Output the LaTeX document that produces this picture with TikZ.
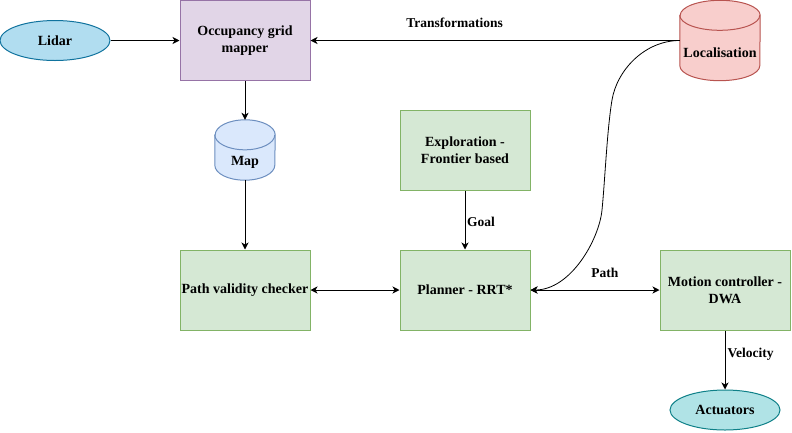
\documentclass[tikz,border=0pt]{standalone}
\usepackage{fontspec}
\setmainfont{Liberation Serif}
\usetikzlibrary{arrows.meta,calc,backgrounds,shapes.geometric}
\definecolor{lidarfill}{HTML}{B1DDF0}
\definecolor{lidardraw}{HTML}{10739E}
\definecolor{actfill}{HTML}{B0E3E6}
\definecolor{actdraw}{HTML}{0E8088}
\definecolor{occfill}{HTML}{E1D5E7}
\definecolor{occdraw}{HTML}{9673A6}
\definecolor{locfill}{HTML}{F8CECC}
\definecolor{locdraw}{HTML}{B85450}
\definecolor{mapfill}{HTML}{DAE8FC}
\definecolor{mapdraw}{HTML}{6C8EBF}
\definecolor{gfill}{HTML}{D5E8D4}
\definecolor{gdraw}{HTML}{82B366}
\newcommand\mycylinder[4]{% name, fill, draw, x radius
  \begin{scope}[on background layer]
    \path[fill=#2,draw=#3,line width=1pt]
      ($(#1.north west)+(0,-15)$) -- ($(#1.south west)+(0,15)$)
      arc[start angle=180,end angle=360,x radius=#4,y radius=15]
      -- ($(#1.north east)+(0,-15)$)
      arc[start angle=0,end angle=180,x radius=#4,y radius=15] -- cycle;
    \draw[draw=#3,line width=1pt] ($(#1.north west)+(0,-15)$)
      arc[start angle=180,end angle=360,x radius=#4,y radius=15];
  \end{scope}}
\begin{document}
\begin{tikzpicture}[x=1pt,y=1pt,
  txt/.style={font=\fontsize{14}{16.8}\selectfont\bfseries},
  lbl/.style={font=\fontsize{13.5}{16}\selectfont\bfseries,inner sep=0pt},
  box/.style={rectangle,draw,txt,align=center,minimum width=130pt,minimum height=80pt,inner sep=0pt,line width=1pt},
  gbox/.style={box,fill=gfill,draw=gdraw},
  ell/.style={ellipse,draw,txt,minimum width=110pt,minimum height=40pt,inner sep=0pt,line width=1pt},
  cylnode/.style={rectangle,draw=none,inner sep=0pt},
  arr/.style={-{Stealth[length=7pt,width=7pt,inset=2pt]},line width=1pt},
  darr/.style={{Stealth[length=7pt,width=7pt,inset=2pt]}-{Stealth[length=7pt,width=7pt,inset=2pt]},line width=1pt}
]
\useasboundingbox (0,0) rectangle (792,-432);

\node[ell,fill=lidarfill,draw=lidardraw] (lidar) at (55,-40.5) {Lidar};
\node[box,fill=occfill,draw=occdraw] (occ) at (245,-40.5) {Occupancy grid\\mapper};
\node[cylnode,minimum width=80pt,minimum height=80pt,
  label={[txt,yshift=-12pt]center:Localisation}] (loc) at (720,-40.5) {};
\mycylinder{loc}{locfill}{locdraw}{40}
\node[cylnode,minimum width=60pt,minimum height=60pt,
  label={[txt,yshift=-12pt]center:Map}] (map) at (245,-150) {};
\mycylinder{map}{mapfill}{mapdraw}{30}
\node[gbox] (expl) at (465,-150) {Exploration -\\Frontier based};
\node[gbox] (pvc) at (245,-290) {Path validity checker};
\node[gbox] (plan) at (465,-290) {Planner - RRT*};
\node[gbox] (mc) at (725,-290) {Motion controller -\\DWA};
\node[ell,fill=actfill,draw=actdraw] (act) at (725,-410) {Actuators};

\coordinate (c1) at (612,-100);
\coordinate (c2) at (602,-210);

\draw[arr] (lidar.east) -- (occ.west);
\draw[arr] (loc.west) -- node[lbl,pos=0.61,yshift=17.5pt] {Transformations} (occ.east);
\draw[arr] (occ.south) -- (map.north);
\draw[arr] (map.south) -- (pvc.north);
\draw[arr] (expl.south) -- node[lbl,pos=0.53,anchor=west,xshift=1.7pt] {Goal} (plan.north);
\draw[darr] (pvc.east) -- (plan.west);
\draw[darr] (plan.east) -- node[lbl,pos=0.577,yshift=17pt] {Path} (mc.west);
\draw[arr] (mc.south) -- node[lbl,pos=0.4,anchor=west,xshift=2pt] {Velocity} (act.north);
\draw[arr,line width=0.8pt] (loc.west) .. controls +(-35,0) and +(5,30) .. (c1)
   .. controls +(-5,-30) and +(3,30) .. (c2)
   .. controls +(-3,-30) and +(40,0) .. (plan.east);
\end{tikzpicture}
\end{document}
